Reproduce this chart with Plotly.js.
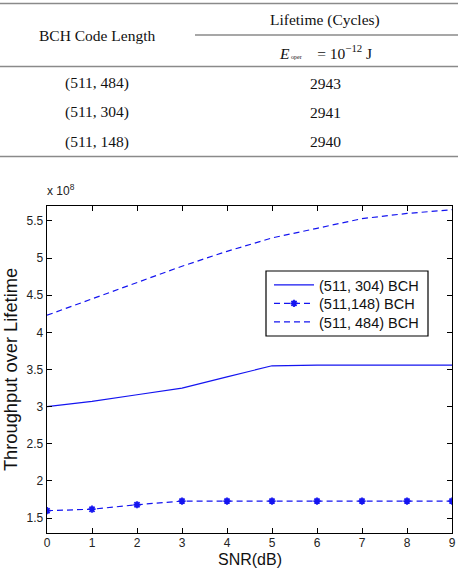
<!DOCTYPE html>
<html>
<head>
<meta charset="utf-8">
<script src="https://cdn.plot.ly/plotly-3.0.1.min.js"></script>
<style>
html,body{margin:0;padding:0;background:#fff;}
#chart{width:458px;height:570px;}
</style>
</head>
<body>
<div id="chart"></div>
<script>
// ---- data ----
const snr = [0, 1, 2, 3, 4, 5, 6, 7, 8, 9];
const bch304 = [3.00, 3.07, 3.16, 3.25, 3.40, 3.55, 3.56, 3.56, 3.56, 3.56];
const bch148 = [1.60, 1.62, 1.68, 1.73, 1.73, 1.73, 1.73, 1.73, 1.73, 1.73];
const bch484 = [4.23, 4.45, 4.67, 4.89, 5.09, 5.27, 5.40, 5.53, 5.60, 5.65];
const seriesNames = ['(511, 304) BCH', '(511,148) BCH', '(511, 484) BCH'];
const tableCodes = ['(511, 484)', '(511, 304)', '(511, 148)'];
const tableLifetimes = ['2943', '2941', '2940'];
const tableHeaders = ['BCH Code Length', 'Lifetime (Cycles)'];
const xTitle = 'SNR(dB)';
const yTitle = 'Throughput over Lifetime';

// ---- layout helpers ----
const W = 458, H = 570;
const M = {l: 47, r: 6, t: 206, b: 37};
const PW = W - M.l - M.r, PH = H - M.t - M.b;
const px = v => (v - M.l) / PW;
const py = v => (H - M.b - v) / PH;

const blue = '#1414f0';
const traces = [
  {x: snr, y: bch304, name: seriesNames[0], mode: 'lines', legend: 'legend',
   line: {color: blue, width: 1.2}},
  {x: snr, y: bch148, name: seriesNames[1], mode: 'lines+markers', legend: 'legend2',
   line: {color: blue, width: 1.2, dash: '6px,4px'},
   marker: {symbol: 'asterisk-open', size: 6, color: blue, line: {color: blue, width: 1.8}}},
  {x: snr, y: bch484, name: seriesNames[2], mode: 'lines', legend: 'legend3',
   line: {color: blue, width: 1.2, dash: '6px,4px'}}
];

const serif = {family: '"Liberation Serif", "Times New Roman", serif', size: 15.5, color: '#111'};
const annotations = [];
const shapes = [];
const gray = '#8a8a8a';
function hline(x0, x1, y) {
  shapes.push({type: 'line', xref: 'paper', yref: 'paper', x0: px(x0), x1: px(x1), y0: py(y), y1: py(y),
               line: {color: gray, width: 1.3}});
}
function txt(text, x, y, font) {
  annotations.push({text: text, xref: 'paper', yref: 'paper', x: px(x), y: py(y),
                    xanchor: 'center', yanchor: 'middle', showarrow: false, font: font || serif});
}
hline(0, 458, 3.5);
hline(195, 458, 35);
hline(0, 458, 66.5);
hline(0, 458, 156.5);
txt(tableHeaders[0], 97, 35);
txt(tableHeaders[1], 325, 20);
txt('<i>E</i><span style="font-size:6px"> oper</span>    = 10<sup>\u221212</sup> J', 325, 52);
const rowY = [83, 112, 142];
tableCodes.forEach((c, i) => {
  txt(c, 97, rowY[i]);
  txt(tableLifetimes[i], 325, rowY[i]);
});
const sans = '"Liberation Sans", Arial, sans-serif';
annotations.push({text: 'x 10<sup>8</sup>', xref: 'paper', yref: 'paper', x: px(45), y: py(200),
  xanchor: 'left', yanchor: 'bottom', showarrow: false,
  font: {family: sans, size: 12, color: '#222'}});
// x axis title
annotations.push({text: xTitle, xref: 'paper', yref: 'paper', x: px(249.5), y: py(550),
  xanchor: 'center', yanchor: 'top', showarrow: false, borderpad: 0,
  font: {family: sans, size: 16, color: '#111'}});

// legend box
shapes.push({type: 'rect', xref: 'paper', yref: 'paper', layer: 'above',
  x0: px(266), x1: px(428), y0: py(271), y1: py(336),
  fillcolor: '#fff', line: {color: '#000', width: 1.2}});

const legFont = {family: sans, size: 14.5, color: '#111'};
const rowsLeg = [285, 303.5, 322];
function leg(i) {
  return {x: px(269), y: py(rowsLeg[i]), xanchor: 'left', yanchor: 'middle',
          bgcolor: 'rgba(0,0,0,0)', borderwidth: 0, font: legFont, itemwidth: 40};
}

const layout = {
  width: W, height: H,
  margin: M,
  paper_bgcolor: '#fff', plot_bgcolor: '#fff',
  font: {family: sans, size: 12, color: '#222'},
  showlegend: true,
  legend: leg(0), legend2: leg(1), legend3: leg(2),
  xaxis: {range: [0, 9], tick0: 0, dtick: 1, ticks: 'inside', ticklen: 5, tickcolor: '#000',
          showline: true, linecolor: '#000', linewidth: 1.3, mirror: 'ticks',
          showgrid: false, zeroline: false, ticklabelstandoff: -2,
          tickfont: {family: sans, size: 12, color: '#222'}},
  yaxis: {range: [1.3, 5.7], tick0: 1.5, dtick: 0.5, ticks: 'inside', ticklen: 5, tickcolor: '#000',
          showline: true, linecolor: '#000', linewidth: 1.3, mirror: 'ticks',
          showgrid: false, zeroline: false,
          tickfont: {family: sans, size: 12, color: '#222'},
          title: {text: yTitle, font: {family: sans, size: 18.3, color: '#111'}, standoff: 7}},
  annotations: annotations,
  shapes: shapes
};

Plotly.newPlot('chart', traces, layout, {displayModeBar: false, staticPlot: true});
</script>
</body>
</html>
